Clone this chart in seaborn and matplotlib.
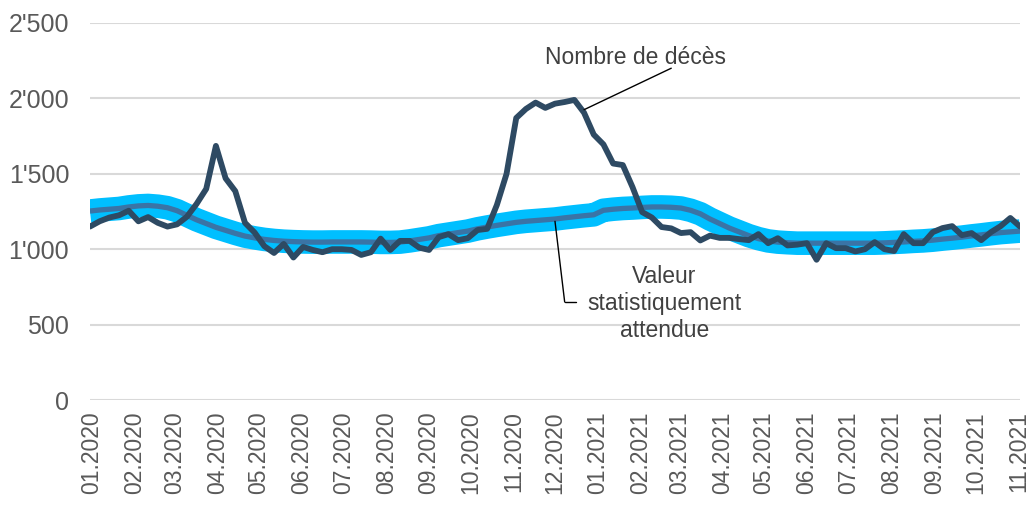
import seaborn as sns
import matplotlib.pyplot as plt
import matplotlib.dates as mdates
from matplotlib.ticker import FuncFormatter
import pandas as pd

# Décès hebdomadaires (lecture du graphique)
deces = [1150, 1185, 1210, 1225, 1255, 1185, 1213, 1175, 1150, 1165,
         1215, 1300, 1400, 1685, 1470, 1385, 1175, 1110, 1020, 975,
         1035, 945, 1015, 995, 980, 1000, 1000, 995, 962, 980,
         1070, 995, 1055, 1055, 1010, 995, 1080, 1100, 1060, 1073,
         1127, 1135, 1293, 1500, 1870, 1930, 1972, 1937, 1965, 1976,
         1990, 1905, 1760, 1695, 1568, 1558, 1412, 1246, 1210, 1147,
         1138, 1107, 1113, 1058, 1090, 1075, 1075, 1067, 1060, 1100,
         1040, 1073, 1025, 1030, 1040, 930, 1040, 1007, 1007, 985,
         1000, 1047, 1000, 988, 1100, 1040, 1040, 1113, 1140, 1153,
         1093, 1107, 1060, 1113, 1153, 1207, 1150]

# Valeur statistiquement attendue
attendu = [1253, 1260, 1265, 1270, 1280, 1287, 1290, 1285, 1275, 1255,
           1225, 1195, 1170, 1145, 1125, 1105, 1087, 1075, 1065, 1058,
           1053, 1050, 1048, 1047, 1047, 1048, 1048, 1048, 1048, 1047,
           1045, 1045, 1047, 1055, 1065, 1075, 1090, 1100, 1110, 1120,
           1135, 1147, 1158, 1168, 1178, 1185, 1190, 1195, 1200, 1208,
           1215, 1222, 1228, 1258, 1265, 1270, 1273, 1277, 1280, 1280,
           1278, 1273, 1258, 1235, 1200, 1170, 1140, 1115, 1090, 1070,
           1055, 1047, 1043, 1040, 1040, 1040, 1040, 1040, 1040, 1040,
           1040, 1040, 1042, 1045, 1048, 1052, 1055, 1060, 1067, 1073,
           1080, 1088, 1095, 1103, 1110, 1115, 1120]

semaines = pd.date_range("2019-12-31", periods=len(deces), freq="7D")
df = pd.DataFrame({"date": semaines, "deces": deces, "attendu": attendu})

sns.set_style("white")
plt.rcParams["font.family"] = ["Liberation Sans", "DejaVu Sans"]

fig = plt.figure(figsize=(10.27, 5.05), dpi=100)
ax = fig.add_axes([0.0876, 0.2079, 0.9056, 0.7466])

# bande + ligne centrale + décès
sns.lineplot(data=df, x="date", y="attendu", ax=ax, color="#00BFFF", linewidth=17, solid_capstyle="butt")
sns.lineplot(data=df, x="date", y="attendu", ax=ax, color="#3A74A6", linewidth=3.8, solid_capstyle="butt")
sns.lineplot(data=df, x="date", y="deces", ax=ax, color="#2E4A63", linewidth=4.2)

ax.set_ylim(0, 2500)
ax.set_xlim(semaines[0], semaines[-1])
ax.set_yticks(range(0, 2501, 500))
ax.yaxis.set_major_formatter(FuncFormatter(lambda v, p: f"{v:,.0f}".replace(",", "'")))
ax.xaxis.set_major_locator(mdates.MonthLocator())
ax.xaxis.set_major_formatter(mdates.DateFormatter("%m.%Y"))
ax.tick_params(axis="x", rotation=90, labelsize=16.5, colors="#595959", length=0, pad=8)
ax.tick_params(axis="y", labelsize=18, colors="#595959", length=0, pad=15)
ax.grid(axis="y", color="#D9D9D9", linewidth=1.5)
ax.set_axisbelow(True)
for s in ax.spines.values():
    s.set_visible(False)
ax.set_xlabel("")
ax.set_ylabel("")

# Annotations
ax.annotate("", xy=(semaines[51], 1925), xytext=(semaines[60], 2200),
            arrowprops=dict(arrowstyle="-", color="black", lw=1, shrinkA=0, shrinkB=0))
ax.text(semaines[56] + pd.Timedelta(days=2), 2270, "Nombre de décès",
        fontsize=16.5, color="#404040", ha="center", va="center")
ax.annotate("", xy=(semaines[48], 1185), xytext=(semaines[49], 650),
            arrowprops=dict(arrowstyle="-", color="black", lw=1, shrinkA=0, shrinkB=0))
ax.plot([semaines[49], semaines[50] + pd.Timedelta(days=1)], [650, 650], color="black", lw=1)
ax.text(semaines[59] + pd.Timedelta(days=2), 640, "Valeur\nstatistiquement\nattendue",
        fontsize=16.5, color="#404040", ha="center", va="center", linespacing=1.2)

fig.savefig("out.png", dpi=100)
